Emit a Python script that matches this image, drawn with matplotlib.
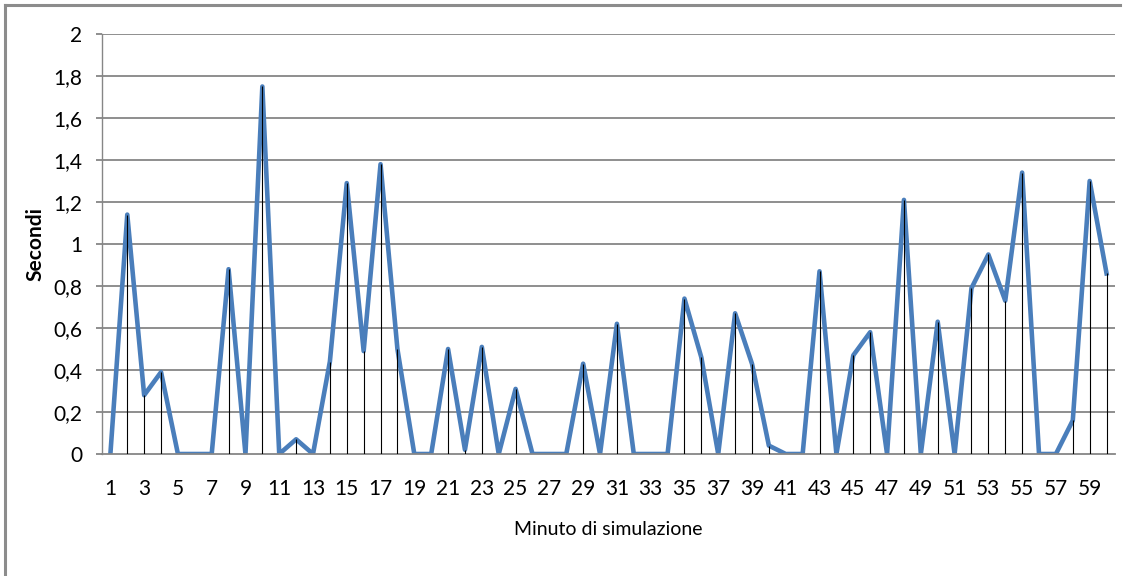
import matplotlib.pyplot as plt
from matplotlib.lines import Line2D
from matplotlib.ticker import FuncFormatter

plt.rcParams['font.family'] = ['Lato', 'DejaVu Sans']

minuti = list(range(1, 61))
secondi = [0.00, 1.14, 0.28, 0.39, 0.00, 0.00, 0.00, 0.88, 0.00, 1.75,
           0.00, 0.07, 0.00, 0.44, 1.29, 0.49, 1.38, 0.50, 0.00, 0.00,
           0.50, 0.02, 0.51, 0.00, 0.31, 0.00, 0.00, 0.00, 0.43, 0.00,
           0.62, 0.00, 0.00, 0.00, 0.74, 0.46, 0.00, 0.67, 0.43, 0.04,
           0.00, 0.00, 0.87, 0.00, 0.47, 0.58, 0.00, 1.21, 0.00, 0.63,
           0.00, 0.79, 0.95, 0.73, 1.34, 0.00, 0.00, 0.16, 1.30, 0.86]
y_ticks = [0, 0.2, 0.4, 0.6, 0.8, 1, 1.2, 1.4, 1.6, 1.8, 2]

fig = plt.figure(figsize=(11.29, 5.76), dpi=100)
ax = fig.add_axes([0.0903, 0.2118, 0.8973, 0.7292])

grey = '#868686'
for y in y_ticks[1:]:
    ax.axhline(y, color=grey, lw=1.3, zorder=1)

ax.plot(minuti, secondi, color='#4a7ebb', lw=3.3, zorder=2)
ax.vlines(minuti, 0, secondi, color='black', lw=0.8, zorder=3)

ax.set_xlim(0.5, 60.5)
ax.set_ylim(0, 2)
ax.set_yticks(y_ticks)
ax.yaxis.set_major_formatter(FuncFormatter(lambda v, p: ('%g' % round(v, 1)).replace('.', ',')))
ax.set_xticks(minuti[::2])

for s in ['top', 'right']:
    ax.spines[s].set_visible(False)
ax.spines['left'].set_color(grey)
ax.spines['bottom'].set_color(grey)
ax.spines['left'].set_linewidth(1.0)
ax.spines['bottom'].set_linewidth(1.3)

ax.tick_params(axis='y', length=4, width=1.3, color=grey, pad=10, labelsize=15)
ax.tick_params(axis='x', length=0, pad=18, labelsize=15)

ax.set_ylabel('Secondi', fontsize=15, fontweight='bold', labelpad=6)
ax.set_xlabel('Minuto di simulazione', fontsize=14, labelpad=16)

fig.add_artist(Line2D([0.0044, 0.0044], [0, 0.9913], color='#8c8c8c', lw=2.2, transform=fig.transFigure))
fig.add_artist(Line2D([0.0044, 0.992], [0.9913, 0.9913], color='#8c8c8c', lw=2.2, transform=fig.transFigure))

fig.savefig('out.png', dpi=100)
